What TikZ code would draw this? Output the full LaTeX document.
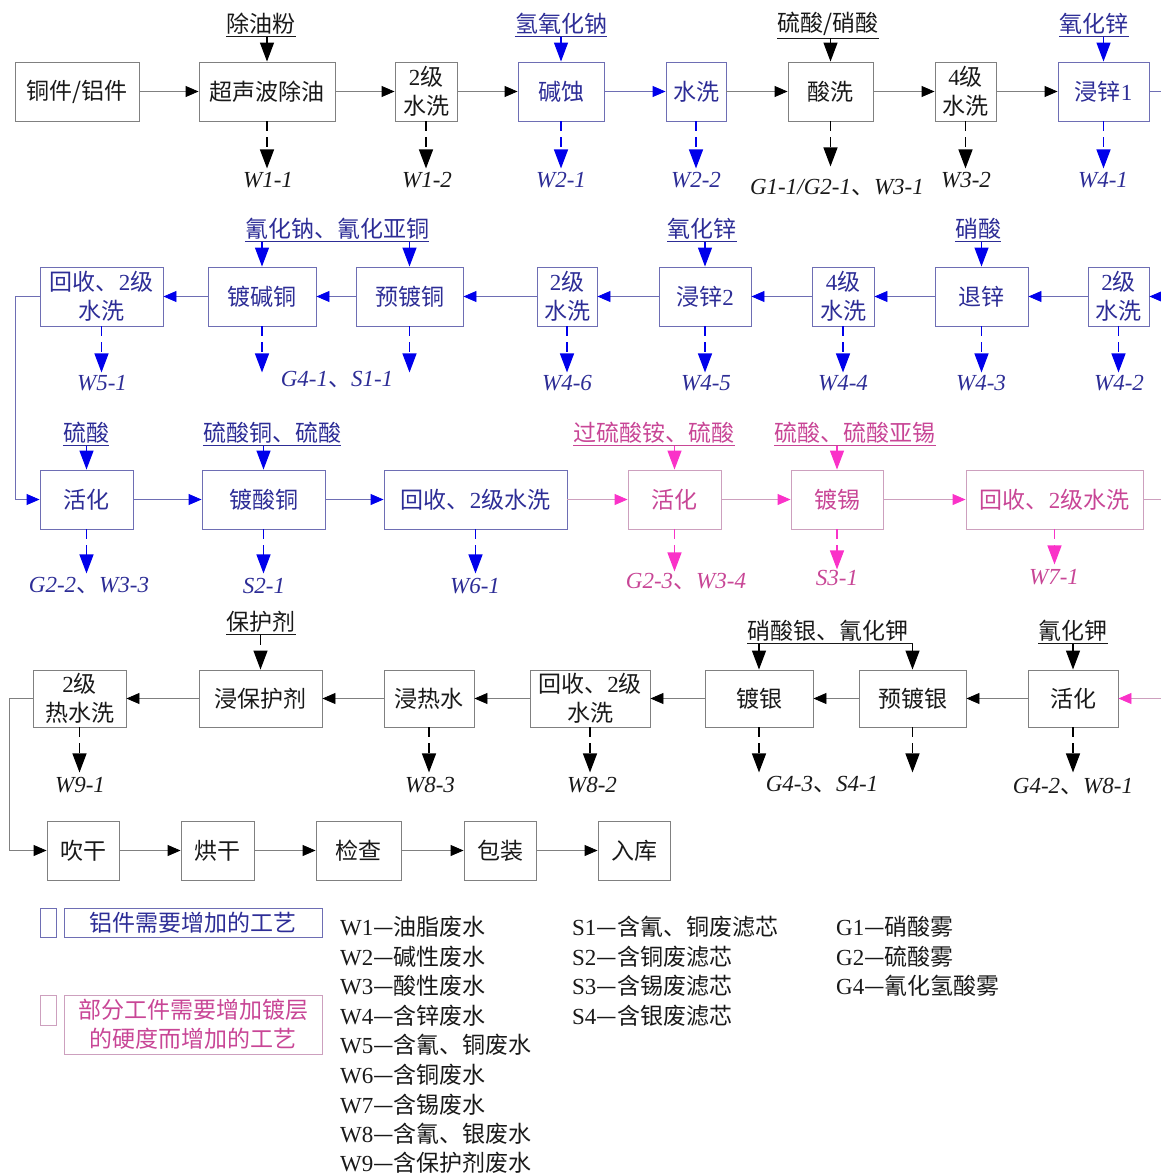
\documentclass[tikz,border=0pt]{standalone}
\usepackage{fontspec}
\setmainfont{Liberation Serif}
\newfontfamily\cjk{Noto Sans CJK SC}
\newcommand\zh[1]{{\cjk #1}}
\usetikzlibrary{arrows.meta}
\definecolor{bk}{RGB}{25,25,25}
\definecolor{bkline}{RGB}{128,128,128}
\definecolor{bltext}{RGB}{45,45,150}
\definecolor{blline}{RGB}{110,110,180}
\definecolor{bltip}{RGB}{0,0,235}
\definecolor{pktext}{RGB}{200,70,150}
\definecolor{pkline}{RGB}{205,160,190}
\definecolor{pktip}{RGB}{250,50,200}
\begin{document}
\begin{tikzpicture}[x=1pt,y=-1pt,
  every node/.style={font=\fontsize{23}{29}\selectfont},
  box/.style={draw=bkline, line width=0.9pt, text=bk, align=center, inner sep=0pt, minimum height=59pt},
  bbox/.style={box, draw=blline, text=bltext},
  pbox/.style={box, draw=pkline, text=pktext},
  lab/.style={inner sep=0pt, font=\fontsize{23}{27}\selectfont\itshape, text=bk},
  blab/.style={lab, text=bltext},
  plab/.style={lab, text=pktext},
  inl/.style={inner xsep=0pt, inner ysep=2pt, text=bk},
  binl/.style={inl, text=bltext},
  pinl/.style={inl, text=pktext},
  ul/.style={line width=0.8pt, draw=bk},
  bul/.style={ul, draw=bltext},
  pul/.style={ul, draw=pktext},
  flow/.style={line width=0.9pt, draw=bkline, -{Triangle[length=13pt,width=11pt,color=black]}},
  bflow/.style={line width=0.9pt, draw=blline, -{Triangle[length=13pt,width=11pt,color=bltip]}},
  pflow/.style={line width=0.9pt, draw=pkline, -{Triangle[length=13pt,width=11pt,color=pktip]}},
  ina/.style={line width=1.3pt, draw=black, -{Triangle[length=19pt,width=14pt]}},
  bina/.style={ina, draw=bltip},
  pina/.style={ina, draw=pktip},
  outa/.style={ina, dash pattern=on 10pt off 6pt},
  bouta/.style={outa, draw=bltip},
  pouta/.style={outa, draw=pktip},
  legt/.style={anchor=west, inner sep=0pt, text=bk, font=\fontsize{23}{27}\selectfont}
]
\useasboundingbox (0,0) rectangle (1161,1175);

% ---------- Row 1 ----------
\node[box, minimum width=124pt] (a1) at (77,91.5) {\zh{铜件/铝件}};
\node[box, minimum width=136pt] (a2) at (267,91.5) {\zh{超声波除油}};
\node[box, minimum width=62pt] (a3) at (426,91.5) {2\zh{级}\\\zh{水洗}};
\node[bbox, minimum width=86pt] (a4) at (561,91.5) {\zh{碱蚀}};
\node[bbox, minimum width=60pt] (a5) at (696,91.5) {\zh{水洗}};
\node[box, minimum width=85pt] (a6) at (830.5,91.5) {\zh{酸洗}};
\node[box, minimum width=61pt] (a7) at (965.5,91.5) {4\zh{级}\\\zh{水洗}};
\node[bbox, minimum width=91pt] (a8) at (1103.5,91.5) {\zh{浸锌}1};
\coordinate (r1) at (1161,91.5);

\draw[flow] (a1) -- (a2);
\draw[flow] (a2) -- (a3);
\draw[flow] (a3) -- (a4);
\draw[bflow] (a4) -- (a5);
\draw[flow] (a5) -- (a6);
\draw[flow] (a6) -- (a7);
\draw[flow] (a7) -- (a8);
\draw[line width=0.9pt, draw=blline] (a8.east) -- (r1);

\node[inl] (i1) at (261,24) {\zh{除油粉}};
\node[binl] (i2) at (561,24) {\zh{氢氧化钠}};
\node[inl] (i3) at (828,24) {\zh{硫酸/硝酸}};
\node[binl] (i4) at (1094,24) {\zh{氧化锌}};
\draw[ul] (i1.south west) -- (i1.south east);
\draw[bul] (i2.south west) -- (i2.south east);
\draw[ul] (i3.south west) -- (i3.south east);
\draw[bul] (i4.south west) -- (i4.south east);
\draw[ina] (a2.north |- i1.south) -- (a2.north);
\draw[bina] (a4.north |- i2.south) -- (a4.north);
\draw[ina] (a6.north |- i3.south) -- (a6.north);
\draw[bina] (a8.north |- i4.south) -- (a8.north);

\draw[outa] (a2.south) -- ++(0,47);
\draw[outa] (a3.south) -- ++(0,47);
\draw[bouta] (a4.south) -- ++(0,47);
\draw[bouta] (a5.south) -- ++(0,47);
\draw[outa] (a6.south) -- ++(0,45);
\draw[outa] (a7.south) -- ++(0,47);
\draw[bouta] (a8.south) -- ++(0,47);
\node[lab] (o1) at (268,180) {W1-1};
\node[lab] (o2) at (427,180) {W1-2};
\node[blab] (o3) at (561,180) {W2-1};
\node[blab] (o4) at (696,180) {W2-2};
\node[lab] (o5) at (837,188) {G1-1/G2-1\zh{、}W3-1};
\node[lab] (o6) at (966,180) {W3-2};
\node[blab] (o7) at (1103,180) {W4-1};

% ---------- Row 2 ----------
\node[bbox, minimum width=123pt] (b1) at (101.5,296.5) {\zh{回收、}2\zh{级}\\\zh{水洗}};
\node[bbox, minimum width=108pt] (b2) at (262,296.5) {\zh{镀碱铜}};
\node[bbox, minimum width=107pt] (b3) at (409.5,296.5) {\zh{预镀铜}};
\node[bbox, minimum width=60pt] (b4) at (567,296.5) {2\zh{级}\\\zh{水洗}};
\node[bbox, minimum width=92pt] (b5) at (705,296.5) {\zh{浸锌}2};
\node[bbox, minimum width=62pt] (b6) at (843,296.5) {4\zh{级}\\\zh{水洗}};
\node[bbox, minimum width=93pt] (b7) at (981.5,296.5) {\zh{退锌}};
\node[bbox, minimum width=61pt] (b8) at (1118.5,296.5) {2\zh{级}\\\zh{水洗}};
\coordinate (r2) at (1161,296.5);

\draw[bflow] (r2) -- (b8.east);
\draw[bflow] (b8) -- (b7);
\draw[bflow] (b7) -- (b6);
\draw[bflow] (b6) -- (b5);
\draw[bflow] (b5) -- (b4);
\draw[bflow] (b4) -- (b3);
\draw[bflow] (b3) -- (b2);
\draw[bflow] (b2) -- (b1);

\node[binl] (j1) at (337,229) {\zh{氰化钠、氰化亚铜}};
\node[binl] (j2) at (702,229) {\zh{氧化锌}};
\node[binl] (j3) at (978,229) {\zh{硝酸}};
\draw[bul] (j1.south west) -- (j1.south east);
\draw[bul] (j2.south west) -- (j2.south east);
\draw[bul] (j3.south west) -- (j3.south east);
\draw[bina] (b2.north |- j1.south) -- (b2.north);
\draw[bina] (b3.north |- j1.south) -- (b3.north);
\draw[bina] (b5.north |- j2.south) -- (b5.north);
\draw[bina] (b7.north |- j3.south) -- (b7.north);

\draw[bouta] (b1.south) -- ++(0,46);
\draw[bouta] (b2.south) -- ++(0,46);
\draw[bouta] (b3.south) -- ++(0,46);
\draw[bouta] (b4.south) -- ++(0,46);
\draw[bouta] (b5.south) -- ++(0,46);
\draw[bouta] (b6.south) -- ++(0,46);
\draw[bouta] (b7.south) -- ++(0,46);
\draw[bouta] (b8.south) -- ++(0,46);
\node[blab] (p1) at (102,383) {W5-1};
\node[blab] (p2) at (337,380) {G4-1\zh{、}S1-1};
\node[blab] (p3) at (567,383) {W4-6};
\node[blab] (p4) at (706,383) {W4-5};
\node[blab] (p5) at (843,383) {W4-4};
\node[blab] (p6) at (981,383) {W4-3};
\node[blab] (p7) at (1119,383) {W4-2};

% ---------- Row 3 ----------
\node[bbox, minimum width=93pt] (c1) at (86.5,499.5) {\zh{活化}};
\node[bbox, minimum width=123pt] (c2) at (263.5,499.5) {\zh{镀酸铜}};
\node[bbox, minimum width=183pt] (c3) at (475.5,499.5) {\zh{回收、}2\zh{级水洗}};
\node[pbox, minimum width=93pt] (c4) at (674.5,499.5) {\zh{活化}};
\node[pbox, minimum width=92pt] (c5) at (837,499.5) {\zh{镀锡}};
\node[pbox, minimum width=177pt] (c6) at (1054.5,499.5) {\zh{回收、}2\zh{级水洗}};
\coordinate (r3) at (1161,499.5);

\draw[bflow] (b1.west) -- ++(-24,0) |- (c1.west);
\draw[bflow] (c1) -- (c2);
\draw[bflow] (c2) -- (c3);
\draw[pflow] (c3) -- (c4);
\draw[pflow] (c4) -- (c5);
\draw[pflow] (c5) -- (c6);
\draw[line width=0.9pt, draw=pkline] (c6.east) -- (r3);

\node[binl] (k1) at (86,433) {\zh{硫酸}};
\node[binl] (k2) at (272,433) {\zh{硫酸铜、硫酸}};
\node[pinl] (k3) at (654,433) {\zh{过硫酸铵、硫酸}};
\node[pinl] (k4) at (855,433) {\zh{硫酸、硫酸亚锡}};
\draw[bul] (k1.south west) -- (k1.south east);
\draw[bul] (k2.south west) -- (k2.south east);
\draw[pul] (k3.south west) -- (k3.south east);
\draw[pul] (k4.south west) -- (k4.south east);
\draw[bina] (c1.north |- k1.south) -- (c1.north);
\draw[bina] (c2.north |- k2.south) -- (c2.north);
\draw[pina] (c4.north |- k3.south) -- (c4.north);
\draw[pina] (c5.north |- k4.south) -- (c5.north);

\draw[bouta] (c1.south) -- ++(0,44);
\draw[bouta] (c2.south) -- ++(0,44);
\draw[bouta] (c3.south) -- ++(0,44);
\draw[pouta] (c4.south) -- ++(0,42);
\draw[pouta] (c5.south) -- ++(0,40);
\draw[pouta] (c6.south) -- ++(0,35);
\node[blab] (q1) at (89,586) {G2-2\zh{、}W3-3};
\node[blab] (q2) at (264,586) {S2-1};
\node[blab] (q3) at (475,586) {W6-1};
\node[plab] (q4) at (686,582) {G2-3\zh{、}W3-4};
\node[plab] (q5) at (837,578) {S3-1};
\node[plab] (q6) at (1054,577) {W7-1};

% ---------- Row 4 ----------
\node[box, minimum width=93pt, minimum height=57pt] (d1) at (79.5,698.5) {2\zh{级}\\\zh{热水洗}};
\node[box, minimum width=123pt, minimum height=57pt] (d2) at (260.5,698.5) {\zh{浸保护剂}};
\node[box, minimum width=90pt, minimum height=57pt] (d3) at (429,698.5) {\zh{浸热水}};
\node[box, minimum width=120pt, minimum height=57pt] (d4) at (590,698.5) {\zh{回收、}2\zh{级}\\\zh{水洗}};
\node[box, minimum width=108pt, minimum height=57pt] (d5) at (759,698.5) {\zh{镀银}};
\node[box, minimum width=107pt, minimum height=57pt] (d6) at (912.5,698.5) {\zh{预镀银}};
\node[box, minimum width=90pt, minimum height=57pt] (d7) at (1073,698.5) {\zh{活化}};
\coordinate (r4) at (1161,698.5);

\draw[pflow] (r4) -- (d7.east);
\draw[flow] (d7) -- (d6);
\draw[flow] (d6) -- (d5);
\draw[flow] (d5) -- (d4);
\draw[flow] (d4) -- (d3);
\draw[flow] (d3) -- (d2);
\draw[flow] (d2) -- (d1);

\node[inl] (m1) at (261,622) {\zh{保护剂}};
\node[inl] (m2) at (828,631) {\zh{硝酸银、氰化钾}};
\node[inl] (m3) at (1073,631) {\zh{氰化钾}};
\draw[ul] (m1.south west) -- (m1.south east);
\draw[ul] (m2.south west) -- (m2.south east -| d6.north);
\draw[ul] (m3.south west) -- (m3.south east);
\draw[outa] (d2.north |- m1.south) -- (d2.north);
\draw[ina] (d5.north |- m2.south) -- (d5.north);
\draw[ina] (d6.north |- m2.south) -- (d6.north);
\draw[ina] (d7.north |- m3.south) -- (d7.north);

\draw[outa] (d1.south) -- ++(0,45);
\draw[outa] (d3.south) -- ++(0,45);
\draw[outa] (d4.south) -- ++(0,45);
\draw[outa] (d5.south) -- ++(0,45);
\draw[outa] (d6.south) -- ++(0,45);
\draw[outa] (d7.south) -- ++(0,45);
\node[lab] (s1) at (80,785) {W9-1};
\node[lab] (s2) at (430,785) {W8-3};
\node[lab] (s3) at (592,785) {W8-2};
\node[lab] (s4) at (822,785) {G4-3\zh{、}S4-1};
\node[lab] (s5) at (1073,786) {G4-2\zh{、}W8-1};

% ---------- Row 5 ----------
\node[box, minimum width=72pt] (e1) at (83,850.5) {\zh{吹干}};
\node[box, minimum width=73pt] (e2) at (217.5,850.5) {\zh{烘干}};
\node[box, minimum width=85pt] (e3) at (358.5,850.5) {\zh{检查}};
\node[box, minimum width=72pt] (e4) at (500,850.5) {\zh{包装}};
\node[box, minimum width=72pt] (e5) at (634,850.5) {\zh{入库}};
\draw[flow] (d1.west) -- ++(-23,0) |- (e1.west);
\draw[flow] (e1) -- (e2);
\draw[flow] (e2) -- (e3);
\draw[flow] (e3) -- (e4);
\draw[flow] (e4) -- (e5);

% ---------- Legend ----------
\node[draw=blline, line width=0.9pt, minimum width=16pt, minimum height=29pt, inner sep=0pt] (lg1) at (48,922.5) {};
\node[bbox, minimum width=258pt, minimum height=29pt] (lg2) at (193,922.5) {\zh{铝件需要增加的工艺}};
\node[draw=pkline, line width=0.9pt, minimum width=16pt, minimum height=30pt, inner sep=0pt] (lg3) at (48,1010) {};
\node[pbox, minimum width=258pt] (lg4) at (193,1024.5) {\zh{部分工件需要增加镀层}\\\zh{的硬度而增加的工艺}};

\node[legt] (w1) at (340,927) {W1\zh{—油脂废水}};
\node[legt] (w2) at (340,957) {W2\zh{—碱性废水}};
\node[legt] (w3) at (340,986) {W3\zh{—酸性废水}};
\node[legt] (w4) at (340,1016) {W4\zh{—含锌废水}};
\node[legt] (w5) at (340,1045) {W5\zh{—含氰、铜废水}};
\node[legt] (w6) at (340,1075) {W6\zh{—含铜废水}};
\node[legt] (w7) at (340,1105) {W7\zh{—含锡废水}};
\node[legt] (w8) at (340,1134) {W8\zh{—含氰、银废水}};
\node[legt] (w9) at (340,1163) {W9\zh{—含保护剂废水}};
\node[legt] (t1) at (572,927) {S1\zh{—含氰、铜废滤芯}};
\node[legt] (t2) at (572,957) {S2\zh{—含铜废滤芯}};
\node[legt] (t3) at (572,986) {S3\zh{—含锡废滤芯}};
\node[legt] (t4) at (572,1016) {S4\zh{—含银废滤芯}};
\node[legt] (g1) at (836,927) {G1\zh{—硝酸雾}};
\node[legt] (g2) at (836,957) {G2\zh{—硫酸雾}};
\node[legt] (g4) at (836,986) {G4\zh{—氰化氢酸雾}};
\end{tikzpicture}
\end{document}
